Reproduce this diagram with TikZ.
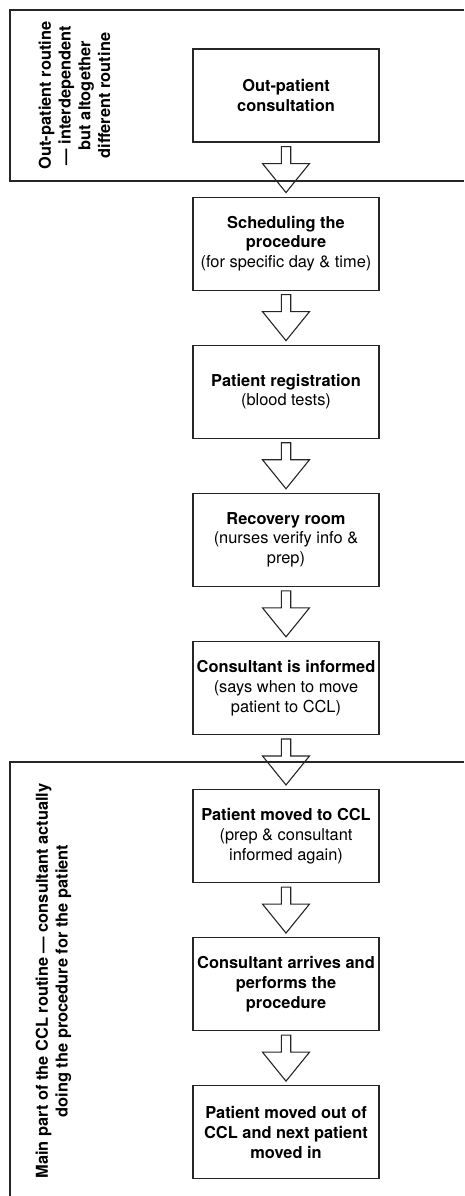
\documentclass[tikz,border=0pt]{standalone}
\usepackage{fontspec}
\setmainfont{TeX Gyre Heros}
\usetikzlibrary{calc}
\tikzset{
  linecol/.style={draw=black!85, line width=1.1pt},
  stepbox/.style={linecol, fill=white, minimum width=186pt, minimum height=93pt,
    inner sep=0pt, align=center, font=\fontsize{16.4}{19.8}\selectfont},
  sidelabel/.style={rotate=90, align=center, inner sep=0pt,
    font=\fontsize{16.4}{19.8}\selectfont\bfseries},
  frameline/.style={linecol},
  barrow/.style={linecol, fill=white, line join=miter}
}
\newcommand{\blockarr}[2]{%
  \draw[barrow] ($(#1.south)+(-4.7,-4)$) -- ($(#1.south)+(4.7,-4)$)
    -- ($(#1.south)+(4.7,-21)$) -- ($(#1.south)+(23.5,-21)$)
    -- ($(#2.north)+(0,4)$)
    -- ($(#1.south)+(-23.5,-21)$) -- ($(#1.south)+(-4.7,-21)$) -- cycle;}
\begin{document}
\begin{tikzpicture}[x=1pt,y=1pt]
\useasboundingbox (0,0) rectangle (464,-1196);
\fill[white] (0,0) rectangle (464,-1196);

\node[stepbox] (b1) at (286,-95.5) {\textbf{Out-patient}\\\textbf{consultation}};
\node[stepbox] (b2) at (286,-243.6) {\textbf{Scheduling the}\\\textbf{procedure}\\(for specific day \& time)};
\node[stepbox] (b3) at (286,-391.7) {\textbf{Patient registration}\\(blood tests)};
\node[stepbox] (b4) at (286,-539.8) {\textbf{Recovery room}\\(nurses verify info \&\\prep)};
\node[stepbox] (b5) at (286,-687.9) {\textbf{Consultant is informed}\\(says when to move\\patient to CCL)};
\node[stepbox] (b6) at (286,-836) {\textbf{Patient moved to CCL}\\(prep \& consultant\\informed again)};
\node[stepbox] (b7) at (286,-984.1) {\textbf{Consultant arrives and}\\\textbf{performs the}\\\textbf{procedure}};
\node[stepbox] (b8) at (286,-1132.2) {\textbf{Patient moved out of}\\\textbf{CCL and next patient}\\\textbf{moved in}};

\blockarr{b1}{b2}
\blockarr{b2}{b3}
\blockarr{b3}{b4}
\blockarr{b4}{b5}
\blockarr{b5}{b6}
\blockarr{b6}{b7}
\blockarr{b7}{b8}

\coordinate (f1a) at (464,-10);
\coordinate (f1b) at (10,-10);
\coordinate (f1c) at (10,-181);
\coordinate (f1d) at (464,-181);
\draw[frameline] (f1a) -- (f1b) -- (f1c) -- (f1d);
\coordinate (f2a) at (464,-762);
\coordinate (f2b) at (10,-762);
\coordinate (f2c) at (10,-1196);
\draw[frameline] (f2a) -- (f2b) -- (f2c);

\node[sidelabel] (l1) at (74.5,-95.5) {Out-patient routine\\--- interdependent\\but altogether\\different routine};
\node[sidelabel] (l2) at (53.5,-981) {Main part of the CCL routine --- consultant actually\\doing the procedure for the patient};
\end{tikzpicture}
\end{document}
